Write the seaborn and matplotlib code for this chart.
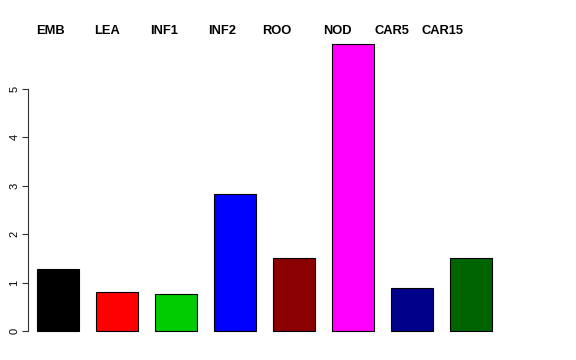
import matplotlib
matplotlib.use('Agg')
import matplotlib.pyplot as plt
import seaborn as sns
import pandas as pd

# ===== DATA =====
tissues = ['EMB', 'LEA', 'INF1', 'INF2', 'ROO', 'NOD', 'CAR5', 'CAR15']
values = [1.27, 0.80, 0.77, 2.82, 1.50, 5.93, 0.88, 1.50]
bar_colors = ['#000000', '#FF0000', '#00CD00', '#0000FF',
              '#8B0000', '#FF00FF', '#00008B', '#006400']
# label centres sit slightly left of the bars (category units)
label_x = [-0.12, 0.83, 1.80, 2.78, 3.71, 4.73, 5.66, 6.51]
y_ticks = [0, 1, 2, 3, 4, 5]
# ================

sns.set_style("white")
plt.rcParams['font.family'] = ['Liberation Sans', 'DejaVu Sans']
plt.rcParams['text.color'] = 'black'
plt.rcParams['ytick.color'] = 'black'

df = pd.DataFrame({'Tissue': tissues, 'Value': values})

fig = plt.figure(figsize=(5.76, 3.6), dpi=100)
ax = fig.add_axes([28 / 576, 18 / 360, (560 - 28) / 576, (342 - 31) / 360])

sns.barplot(data=df, x='Tissue', y='Value', hue='Tissue', palette=bar_colors,
            saturation=1, width=0.71, edgecolor='black', linewidth=0.8,
            legend=False, ax=ax)

ax.set_xlim(-0.508, 8.51)
ax.set_ylim(-0.227, 6.19)

# labels across the top
for x, name in zip(label_x, tissues):
    ax.text(x, 6.19, name, ha='center', va='center', fontsize=9.3,
            fontweight='bold', color='black', clip_on=False)

ax.set_xticks([])
ax.set_xlabel('')
ax.set_ylabel('')
ax.set_yticks(y_ticks)
ax.set_yticklabels([str(t) for t in y_ticks], rotation=90, va='center',
                   fontsize=8, color='black')
ax.tick_params(axis='y', left=True, length=4.3, width=0.8, pad=2, color='#333333')

for side in ['top', 'right', 'bottom']:
    ax.spines[side].set_visible(False)
ax.spines['left'].set_bounds(0, 5)
ax.spines['left'].set_linewidth(0.8)
ax.spines['left'].set_color('#333333')

plt.savefig('out.png', dpi=100)
plt.close()
